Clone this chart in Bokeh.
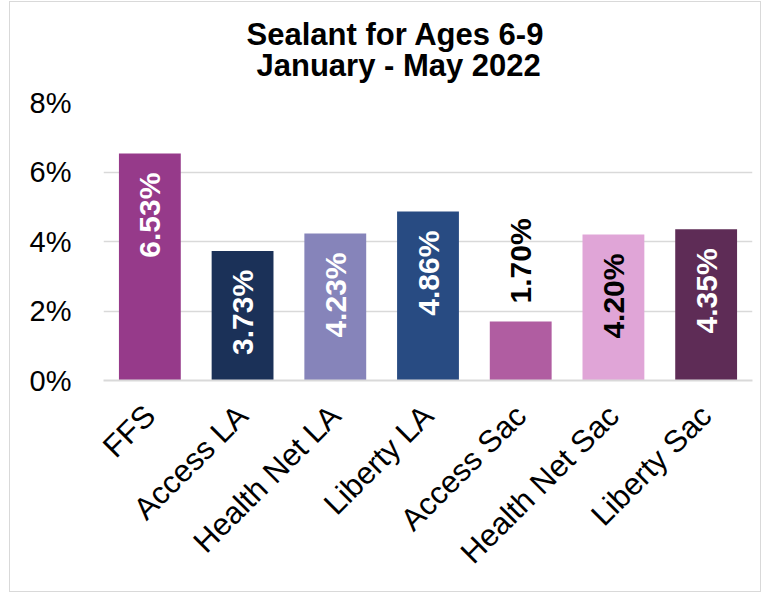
import math
from bokeh.plotting import figure
from bokeh.models import ColumnDataSource, Range1d, FixedTicker, Title
from bokeh.core.properties import value
from bokeh.embed import file_html
from bokeh.resources import INLINE

# ---- data ----
categories = ["FFS", "Access LA", "Health Net LA", "Liberty LA", "Access Sac", "Health Net Sac", "Liberty Sac"]
rates = [6.53, 3.73, 4.23, 4.86, 1.70, 4.20, 4.35]
rate_labels = ["6.53%", "3.73%", "4.23%", "4.86%", "1.70%", "4.20%", "4.35%"]
tick_values = [0, 2, 4, 6, 8]
tick_labels = ["0%", "2%", "4%", "6%", "8%"]
title_line1 = "Sealant for Ages 6-9"
title_line2 = "January - May 2022"

# ---- styles ----
bar_colors = ["#963A8A", "#1B3158", "#8684BA", "#284B82", "#B05DA1", "#E0A5D7", "#5E2C56"]
label_colors = ["white", "white", "white", "white", "black", "black", "white"]
FONT = "Liberation Sans"

inside = [v >= 2.5 for v in rates]
src = ColumnDataSource(dict(
    cat=categories, val=rates, txt=rate_labels, color=bar_colors, tcolor=label_colors,
    align=["right" if i else "left" for i in inside],
    yoff=[19 if i else -18 for i in inside],
))

p = figure(x_range=categories, y_range=Range1d(0, 8), width=752, height=591,
           output_backend="svg", toolbar_location=None,
           min_border_left=93, min_border_right=10, min_border_top=100, min_border_bottom=213)
p.outline_line_color = None
p.background_fill_color = "white"
p.border_fill_color = "white"
p.styles = {"border": "1px solid #d9d9d9", "margin-left": "9px", "margin-top": "1px"}

p.vbar(x="cat", top="val", width=0.667, source=src, fill_color="color", line_color=None)
p.text(x="cat", y="val", text="txt", source=src, angle=math.pi / 2,
       text_align="align", text_baseline="middle", y_offset="yoff",
       text_color="tcolor", text_font=value(FONT), text_font_size="30px",
       text_font_style="bold")

# axes
p.xgrid.grid_line_color = None
p.ygrid.grid_line_color = "#d9d9d9"
p.ygrid.grid_line_width = 1.5
p.yaxis.ticker = FixedTicker(ticks=tick_values)
p.yaxis.major_label_overrides = {t: l for t, l in zip(tick_values, tick_labels)}
p.yaxis.axis_line_color = None
p.yaxis.major_tick_line_color = None
p.yaxis.minor_tick_line_color = None
p.yaxis.major_label_standoff = 26
p.yaxis.major_label_text_font = FONT
p.yaxis.major_label_text_font_size = "29px"
p.yaxis.major_label_text_color = "black"

p.xaxis.axis_line_color = "#d9d9d9"
p.xaxis.axis_line_width = 2
p.xaxis.major_tick_line_color = None
p.xaxis.minor_tick_line_color = None
p.xaxis.major_label_orientation = math.pi / 4
p.xaxis.major_label_standoff = 24
p.xaxis.major_label_text_font = FONT
p.xaxis.major_label_text_font_size = "31px"
p.xaxis.major_label_text_color = "black"

for txt, off, so in [(title_line2, 153, 39), (title_line1, 143, -50)]:
    p.add_layout(Title(text=txt, align="left", offset=off, text_font=FONT,
                       text_font_size="31px", text_font_style="bold",
                       text_color="black", standoff=so), "above")

open("out.html", "w").write(file_html(p, INLINE))
